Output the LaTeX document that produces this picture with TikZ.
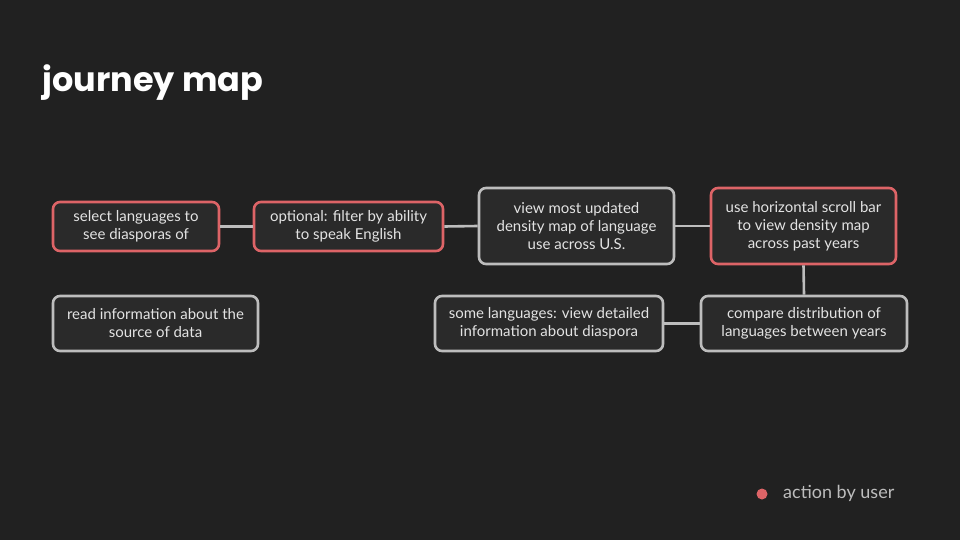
\documentclass[tikz,border=0pt]{standalone}
\usepackage{fontspec}
\setmainfont{Lato}
\newfontfamily\titlefont{Poppins}
\definecolor{bg}{HTML}{212121}
\definecolor{boxfill}{HTML}{2A2A2A}
\definecolor{grayline}{HTML}{BDBDBD}
\definecolor{redline}{HTML}{DD6467}
\definecolor{txt}{HTML}{E3E3E3}
\begin{document}
\begin{tikzpicture}[x=1pt,y=-1pt,
  card/.style={draw=grayline, line width=2.6pt, fill=boxfill, rounded corners=7pt,
    align=center, text=txt, font=\fontsize{15}{18}\selectfont, inner sep=0pt},
  redcard/.style={card, draw=redline},
  link/.style={draw=grayline, line width=2.6pt}]
\fill[bg] (0,0) rectangle (960,540);
\useasboundingbox (0,0) rectangle (960,540);
\node[anchor=base west, text=white, font=\titlefont\bfseries\fontsize{33.5}{40}\selectfont] (title) at (39,92) {journey map};

\node[redcard, minimum width=166, minimum height=49] (n1) at (136,226.5) {select languages to\\see diasporas of};
\node[redcard, minimum width=189, minimum height=49] (n2) at (348.5,226.5) {optional: filter by ability\\to speak English};
\node[card, minimum width=195, minimum height=76] (n3) at (576.5,226) {view most updated\\density map of language\\use across U.S.};
\node[redcard, minimum width=185, minimum height=76] (n4) at (803.5,226) {use horizontal scroll bar\\to view density map\\across past years};
\node[card, minimum width=205, minimum height=55] (n5) at (155.5,323.5) {read information about the\\source of data};
\node[card, minimum width=228, minimum height=55] (n6) at (549,323.5) {some languages: view detailed\\information about diaspora};
\node[card, minimum width=206, minimum height=55] (n7) at (804,323.5) {compare distribution of\\languages between years};

\draw[link] (n1.east) -- (n2.west);
\draw[link] (n2.east) -- (n3.west);
\draw[link] (n3.east) -- (n4.west);
\draw[link] (n4.south) -- (n7.north);
\draw[link] (n6.east) -- (n7.west);

\node[circle, fill=redline, minimum size=11pt, inner sep=0pt] (dot) at (762,494) {};
\node[anchor=west, text=grayline, font=\fontsize{18}{20}\selectfont, inner sep=0pt] (legend) at (783,493) {action by user};
\end{tikzpicture}
\end{document}
